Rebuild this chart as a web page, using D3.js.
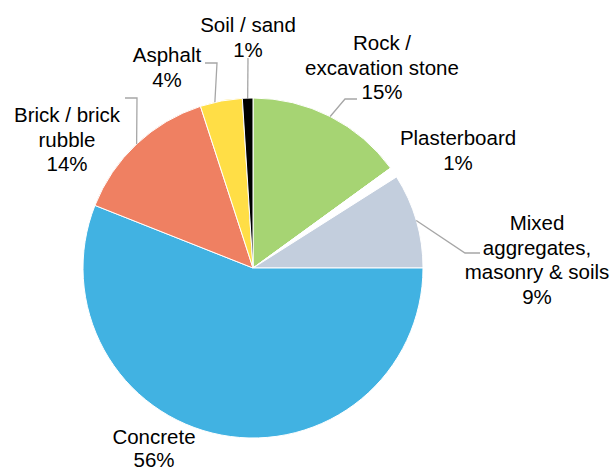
<!DOCTYPE html>
<html><head><meta charset="utf-8">
<script src="https://cdn.jsdelivr.net/npm/d3@7"></script>
<style>body{margin:0;background:#fff}svg{display:block}text{font-family:"Liberation Sans",Arial,sans-serif;font-size:20.5px;fill:#000}</style>
</head><body>
<svg id="c" width="613" height="473"></svg>
<script>
const categories = ["Rock / excavation stone","Plasterboard","Mixed aggregates, masonry & soils","Concrete","Brick / brick rubble","Asphalt","Soil / sand"];
const values = [15,1,9,56,14,4,1];
const colors = ["#A6D473","#FFFFFF","#C3CEDD","#41B2E2","#EF8062","#FFDE46","#000000"];
const labelLines = [["Rock /","excavation stone","15%"],["Plasterboard","1%"],["Mixed","aggregates,","masonry & soils","9%"],["Concrete","56%"],["Brick / brick","rubble","14%"],["Asphalt","4%"],["Soil / sand","1%"]];
// label layout: center x, first baseline y, leader polyline (label-side points), leader goes to slice edge
const layout = [
  {x:382,y:50,lead:[[357,99],[345,99]]},
  {x:458,y:145,lead:null},
  {x:537,y:230,lead:[[480,253],[465,253]]},
  {x:154,y:444,lead:null,lh:22.5},
  {x:67,y:122,lead:[[125,98],[137,98]]},
  {x:167,y:62,lead:[[205,63],[217,63]]},
  {x:248,y:32,lead:[[248,58]]}
];
const cx=253, cy=268, R=170, lh=24.5;
const svg=d3.select("#c");
const pie=d3.pie().sort(null).value(d=>d)(values);
const arc=d3.arc().innerRadius(0).outerRadius(R);
const g=svg.append("g").attr("transform",`translate(${cx},${cy})`);
g.selectAll("path").data(pie).join("path").attr("d",arc)
 .attr("fill",(d,i)=>colors[i]).attr("stroke","#fff").attr("stroke-width",1);
// leaders
pie.forEach((d,i)=>{
  const L=layout[i]; if(!L.lead) return;
  let ang=(d.startAngle+d.endAngle)/2;
  if(i===5) ang=d.startAngle+(d.endAngle-d.startAngle)*0.35;
  const p=[cx+R*Math.sin(ang), cy-R*Math.cos(ang)];
  const pts=L.lead.concat([p]);
  svg.append("path").attr("d",d3.line()(pts)).attr("fill","none").attr("stroke","#A6A6A6").attr("stroke-width",1.3);
});
// labels
labelLines.forEach((lines,i)=>{
  const L=layout[i];
  const t=svg.append("text").attr("text-anchor","middle");
  lines.forEach((s,j)=>t.append("tspan").attr("x",L.x).attr("y",L.y+j*(L.lh||lh)).text(s));
});
</script>
</body></html>
